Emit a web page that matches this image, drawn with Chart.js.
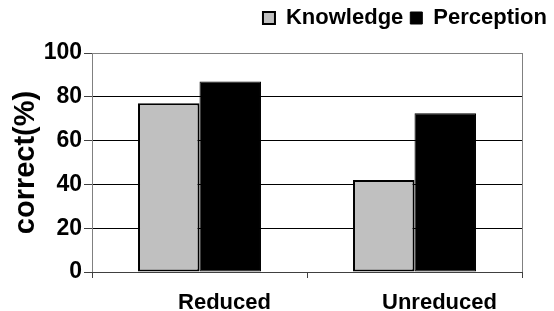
<!DOCTYPE html>
<html>
<head>
<meta charset="utf-8">
<script src="https://cdn.jsdelivr.net/npm/chart.js@4"></script>
<style>
  html, body { margin: 0; padding: 0; background: #fff; }
  #wrap { width: 554px; height: 311px; }
</style>
</head>
<body>
<div id="wrap"><canvas id="bar-chart"></canvas></div>
<script>
var groups = ["Reduced", "Unreduced"];
var knowledge = [77, 42];
var perception = [87, 72.5];
var yTicks = [0, 20, 40, 60, 80, 100];

var sans = "'Liberation Sans', Arial, sans-serif";

var ctx = document.getElementById("bar-chart").getContext("2d");

// push the plot down a bit below the legend
var legendGap = {
    id: "legendGap",
    beforeInit: function (chart) {
        var fit = chart.legend.fit;
        chart.legend.fit = function () {
            fit.call(this);
            this.height += 14;
        };
    },
};

var config = {
    type: "bar",
    data: {
        labels: groups,
        datasets: [
            {
                label: "Knowledge",
                data: knowledge,
                backgroundColor: "#c0c0c0",
                borderColor: "#000000",
                borderWidth: 2,
                borderSkipped: false,
            },
            {
                label: "Perception",
                data: perception,
                backgroundColor: "#000000",
                borderColor: "#000000",
                borderWidth: 1,
                borderSkipped: false,
            },
        ],
    },
    options: {
        responsive: true,
        maintainAspectRatio: false,
        animation: false,
        layout: { padding: { left: 0, right: 0, top: 0, bottom: 0 } },
        datasets: {
            bar: { categoryPercentage: 0.572, barPercentage: 1.0 },
        },
        plugins: {
            tooltip: { enabled: false },
            legend: {
                position: "top",
                align: "end",
                labels: {
                    color: "#000",
                    font: { family: sans, size: 22, weight: "bold" },
                    boxWidth: 12,
                    boxHeight: 12,
                    padding: 7,
                },
            },
        },
        scales: {
            y: {
                min: 0,
                max: 100,
                afterBuildTicks: function (scale) {
                    scale.ticks = yTicks.map(function (v) { return { value: v }; });
                },
                afterFit: function (scale) { scale.width = 92; },
                ticks: {
                    color: "#000",
                    font: { family: sans, size: 23, weight: "bold" },
                    padding: 2,
                },
                grid: {
                    color: function (c) {
                        if (c.tick && (c.tick.value === 100 || c.tick.value === 0)) return "#808080";
                        return "#000000";
                    },
                    tickColor: "#404040",
                    tickLength: 8,
                    lineWidth: 1,
                },
                border: { color: "#808080", width: 1 },
                title: {
                    display: true,
                    text: "correct(%)",
                    color: "#000",
                    font: { family: sans, size: 29, weight: "bold" },
                    padding: { top: 9, bottom: 0 },
                },
            },
            yRight: {
                position: "right",
                display: true,
                afterFit: function (scale) { scale.width = 32; },
                ticks: { display: false },
                grid: { display: false },
                border: { display: false },
            },
            x: {
                afterFit: function (scale) { scale.height = 39; },
                ticks: {
                    color: "#000",
                    font: { family: sans, size: 22, weight: "bold" },
                    labelOffset: 25,
                    padding: 12,
                },
                grid: {
                    offset: true,
                    color: function (c) { return c.index === 1 ? "rgba(0,0,0,0)" : "#808080"; },
                    tickColor: "#404040",
                    tickLength: 6,
                },
                border: { color: "#404040", width: 1 },
            },
        },
    },
    plugins: [legendGap],
};

var barChart = new Chart(ctx, config);
</script>
</body>
</html>
